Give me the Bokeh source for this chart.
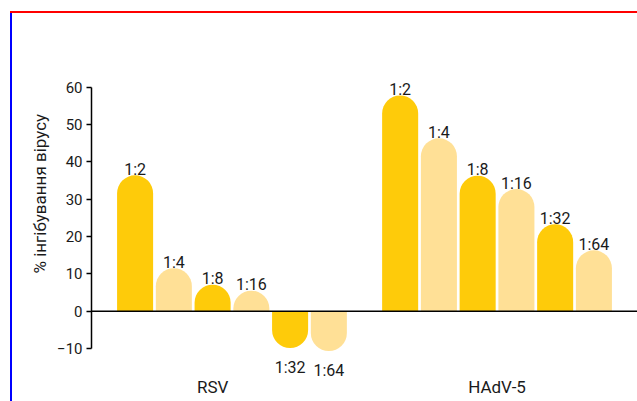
from bokeh.plotting import figure
from bokeh.layouts import column
from bokeh.models import (ColumnDataSource, FactorRange, Range1d, LinearAxis, FixedTicker,
                          Span, Title)
from bokeh.core.properties import value
from bokeh.embed import file_html
from bokeh.resources import INLINE

# ---- data ----
viruses = ["RSV", "HAdV-5"]
dilutions = ["1:2", "1:4", "1:8", "1:16", "1:32", "1:64"]
rsv_values = [36.4, 11.5, 7.1, 5.5, -9.9, -10.7]
hadv_values = [57.8, 46.3, 36.3, 32.7, 23.3, 16.3]
y_ticks = [-10, 0, 10, 20, 30, 40, 50, 60]
y_label = "% інгібування вірусу"

DARK = "#FECB0A"
LIGHT = "#FFE096"
TXT = "#1a1a1a"
FONT = "Roboto"

series = {"RSV": rsv_values, "HAdV-5": hadv_values}
factors = [(v, d) for v in viruses for d in dilutions]
vals = [series[v][i] for v in viruses for i in range(len(dilutions))]
cols = [(DARK if i % 2 == 0 else LIGHT) for v in viruses for i in range(len(dilutions))]
labs = [d for v in viruses for d in dilutions]

pos = [k for k, y in enumerate(vals) if y >= 0]
neg = [k for k, y in enumerate(vals) if y < 0]


def sub(idx):
    return ColumnDataSource(dict(x=[factors[k] for k in idx], y=[vals[k] for k in idx],
                                 c=[cols[k] for k in idx], t=[labs[k] for k in idx]))


src_pos = sub(pos)
src_neg = sub(neg)

x_range = FactorRange(*factors, factor_padding=0.0, group_padding=0.84,
                      range_padding=0.625, range_padding_units="absolute")
y_range = Range1d(-24.2, 78.4)

p = figure(width=637, height=401, x_range=x_range, y_range=y_range,
           output_backend="svg", toolbar_location=None, y_axis_location=None,
           min_border_left=91, min_border_right=0, min_border_top=18, min_border_bottom=0,
           background_fill_color=None, border_fill_color=None)
p.xaxis.visible = False
p.xgrid.visible = False
p.ygrid.visible = False
p.outline_line_color = None

# y axis
yax = LinearAxis(ticker=FixedTicker(ticks=y_ticks), bounds=(min(y_ticks), max(y_ticks)))
yax.axis_line_color = "black"
yax.axis_line_width = 1.5
yax.major_tick_line_color = "black"
yax.major_tick_line_width = 1.5
yax.major_tick_out = 5
yax.major_tick_in = 0
yax.minor_tick_line_color = None
yax.major_label_standoff = 4
yax.major_label_text_font = FONT
yax.major_label_text_font_size = "15px"
yax.major_label_text_color = TXT
yax.major_label_overrides = {t: (str(t).replace("-", "\u2212")) for t in y_ticks}
p.add_layout(yax, "left")

p.add_layout(Title(text=y_label, align="left", offset=128, standoff=9,
                   text_font=FONT, text_font_size="17px", text_font_style="normal",
                   text_color=TXT), "left")

# bars
p.vbar(x="x", top="y", bottom=0, width=0.93, source=src_pos, fill_color="c",
       line_color=None, border_radius=(18, 18, 0, 0))
p.vbar(x="x", top=0, bottom="y", width=0.93, source=src_neg, fill_color="c",
       line_color=None, border_radius=(0, 0, 18, 18))

# zero line
p.add_layout(Span(location=0, dimension="width", line_color="black", line_width=1.5))

# value labels
p.text(x="x", y="y", text="t", source=src_pos, text_align="center",
       text_baseline="alphabetic", y_offset=-6, text_font=value(FONT),
       text_font_size="16px", text_color=TXT)
p.text(x="x", y="y", text="t", source=src_neg, text_align="center",
       text_baseline="alphabetic", y_offset=19, text_font=value(FONT),
       text_font_size="16px", text_color=TXT)

# group labels
grp_src = ColumnDataSource(dict(x=[("RSV", "1:8"), "HAdV-5"], t=viruses, y=[-20.2, -20.2]))
p.text(x="x", y="y", text="t", source=grp_src, text_align="center",
       text_baseline="middle", text_font=value(FONT), text_font_size="17px",
       text_color=TXT)

# wrapper carrying the light panel frame behind the transparent plot
# (diagnostic colours: top edge red, left edge blue)
root = column(p, styles={
    "background-color": "#ffffff",
    "background-image": "linear-gradient(#ff0000, #ff0000), linear-gradient(#0000ff, #0000ff)",
    "background-position": "10px 11px, 10px 11px",
    "background-size": "2000px 2px, 2px 2000px",
    "background-repeat": "no-repeat, no-repeat",
})

open("out.html", "w").write(file_html(root, INLINE))
